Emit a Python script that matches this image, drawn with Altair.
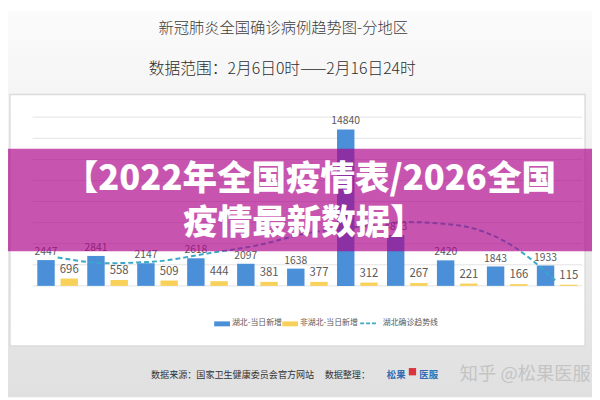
import altair as alt
import pandas as pd

# ---------------- data ----------------
dates = ["2/6", "2/7", "2/8", "2/9", "2/10", "2/11", "2/12", "2/13", "2/14", "2/15", "2/16"]
hubei_new = [2447, 2841, 2147, 2618, 2097, 1638, 14840, 4823, 2420, 1843, 1933]
other_new = [696, 558, 509, 444, 381, 377, 312, 267, 221, 166, 115]
hubei_trend = [2700, 2150, 2330, 3080, 3850, 5000, 5600, 6050, 5750, 4100, 370]
series_names = ["湖北-当日新增", "非湖北-当日新增", "湖北确诊趋势线"]
y_ticks = [0, 2000, 4000, 6000, 8000, 10000, 12000, 14000, 16000]

title_text = "新冠肺炎全国确诊病例趋势图-分地区"
subtitle_text = "数据范围：2月6日0时——2月16日24时"
banner_lines = ["【2022年全国疫情表/2026全国", "疫情最新数据】"]
source_text = "数据来源：国家卫生健康委员会官方网站"
editor_text = "数据整理："
logo_parts = ["松果", "医服"]
watermark_text = "知乎 @松果医服"

# ---------------- styling ----------------
BLUE = "#4a8fd8"
YELLOW = "#f8d15a"
TEAL = "#3aa8c8"
FONT = "Noto Sans CJK SC"
W, H = 557, 171

bars_df = pd.DataFrame({
    "date": dates * 2,
    "series": [series_names[0]] * len(dates) + [series_names[1]] * len(dates),
    "value": hubei_new + other_new,
})
trend_df = pd.DataFrame({"date": dates, "trend": hubei_trend})
grid_df = pd.DataFrame({"tick": y_ticks})
one = pd.DataFrame({"k": [0]})

x_enc = alt.X("date:N", sort=dates, title=None,
              scale=alt.Scale(domain=dates, paddingInner=0, paddingOuter=0))
y_scale = alt.Scale(domain=[0, 16000], nice=False, zero=True)
xoff = alt.XOffset("series:N", sort=series_names[:2],
                   scale=alt.Scale(domain=series_names[:2], paddingInner=0.25, paddingOuter=0.2))


def box(x, x2, y, y2, **kw):
    return alt.Chart(one).mark_rect(**kw).encode(
        x=alt.value(x), x2=alt.value(x2), y=alt.value(y), y2=alt.value(y2))


def label(text, x, y, **kw):
    params = dict(font=FONT, baseline="middle")
    params.update(kw)
    return alt.Chart(one).mark_text(text=text, **params).encode(x=alt.value(x), y=alt.value(y))


background = box(-25, 567, -108, 284, color=alt.LinearGradient(
    gradient="linear",
    stops=[alt.GradientStop(color="#fbfbfb", offset=0), alt.GradientStop(color="#e0e0e0", offset=1)],
    x1=0, x2=0, y1=0, y2=1))
panel = box(-23, 560, -23, 232, fill="white", stroke="#dcdcdc", strokeWidth=1.5)

grid = alt.Chart(grid_df).mark_rule(color="#e3e3e3", strokeWidth=1).encode(
    y=alt.Y("tick:Q", scale=y_scale, axis=None), x=alt.value(0), x2=alt.value(W))

bars = alt.Chart(bars_df).mark_bar().encode(
    x=x_enc,
    xOffset=xoff,
    y=alt.Y("value:Q", scale=y_scale, axis=None),
    color=alt.Color("series:N", scale=alt.Scale(domain=series_names[:2], range=[BLUE, YELLOW]), legend=None),
)
blue_labels = alt.Chart(bars_df).transform_filter(
    alt.datum.series == series_names[0]).mark_text(
    font=FONT, fontSize=10.5, color="#5a5a5a", baseline="bottom", dy=-3).encode(
    x=x_enc, xOffset=xoff, y=alt.Y("value:Q", scale=y_scale, axis=None), text="value:Q")
yellow_labels = alt.Chart(bars_df).transform_filter(
    alt.datum.series == series_names[1]).mark_text(
    font=FONT, fontSize=11.5, color="#5a5a5a", baseline="bottom", dy=-4).encode(
    x=x_enc, xOffset=xoff, y=alt.Y("value:Q", scale=y_scale, axis=None), text="value:Q")

trend = alt.Chart(trend_df).mark_line(
    color=TEAL, strokeWidth=2, strokeDash=[5, 3], interpolate="monotone").encode(
    x=x_enc, y=alt.Y("trend:Q", scale=y_scale, axis=None))

overlay = box(-25, 567, 32, 136, color="#ad058b", opacity=0.68)

layers = [
    background, panel, grid, bars, trend, blue_labels, yellow_labels, overlay,
    label(banner_lines[0], 281, 63, fontSize=35, fontWeight=900, color="white", align="center"),
    label(banner_lines[1], 275, 107, fontSize=35, fontWeight=900, color="white", align="center"),
    label(title_text, 254, -90, fontSize=15.5, fontWeight=300, color="#3c3c3c", align="center"),
    label(subtitle_text, 253, -49, fontSize=16, fontWeight=300, color="#2e2e2e", align="center"),
    # legend
    box(184, 200, 207, 212, color=BLUE),
    label(series_names[0], 202, 209, fontSize=8, color="#595959", align="left"),
    box(253, 269, 207, 212, color=YELLOW),
    label(series_names[1], 271, 209, fontSize=8, color="#595959", align="left"),
    alt.Chart(one).mark_rule(color=TEAL, strokeWidth=2, strokeDash=[4, 2]).encode(
        x=alt.value(332), x2=alt.value(350), y=alt.value(209)),
    label(series_names[2], 355, 209, fontSize=8, color="#595959", align="left"),
    # footer
    label(source_text, 120, 261, fontSize=9.2, color="#333333", align="left"),
    label(editor_text, 296, 261, fontSize=9.2, color="#333333", align="left"),
    label(logo_parts[0], 359, 261, fontSize=9.5, fontWeight="bold", color="#2f6db5", align="left"),
    alt.Chart(one).mark_point(shape="square", filled=True, color="#d8343c", size=55, opacity=1).encode(
        x=alt.value(385), y=alt.value(258)),
    label(logo_parts[1], 392, 261, fontSize=9.5, fontWeight="bold", color="#2f6db5", align="left"),
    label(watermark_text, 433, 260, fontSize=18.5, color="#c4c4c4", align="left"),
]

chart = alt.layer(*layers).properties(
    width=W, height=H,
    padding={"left": 25, "top": 108, "right": 10, "bottom": 113},
    autosize=alt.AutoSizeParams(type="none"),
).configure_view(stroke=None).configure_axisX(
    zindex=1, domainColor="#c8c8c8", domainWidth=1, ticks=True, tickBand="extent",
    tickColor="#c8c8c8", tickSize=4, labelFont=FONT, labelFontSize=13,
    labelColor="#595959", labelAngle=0, labelPadding=4, grid=False,
)

chart.save("out.html", embed_options={"renderer": "svg", "actions": False})
